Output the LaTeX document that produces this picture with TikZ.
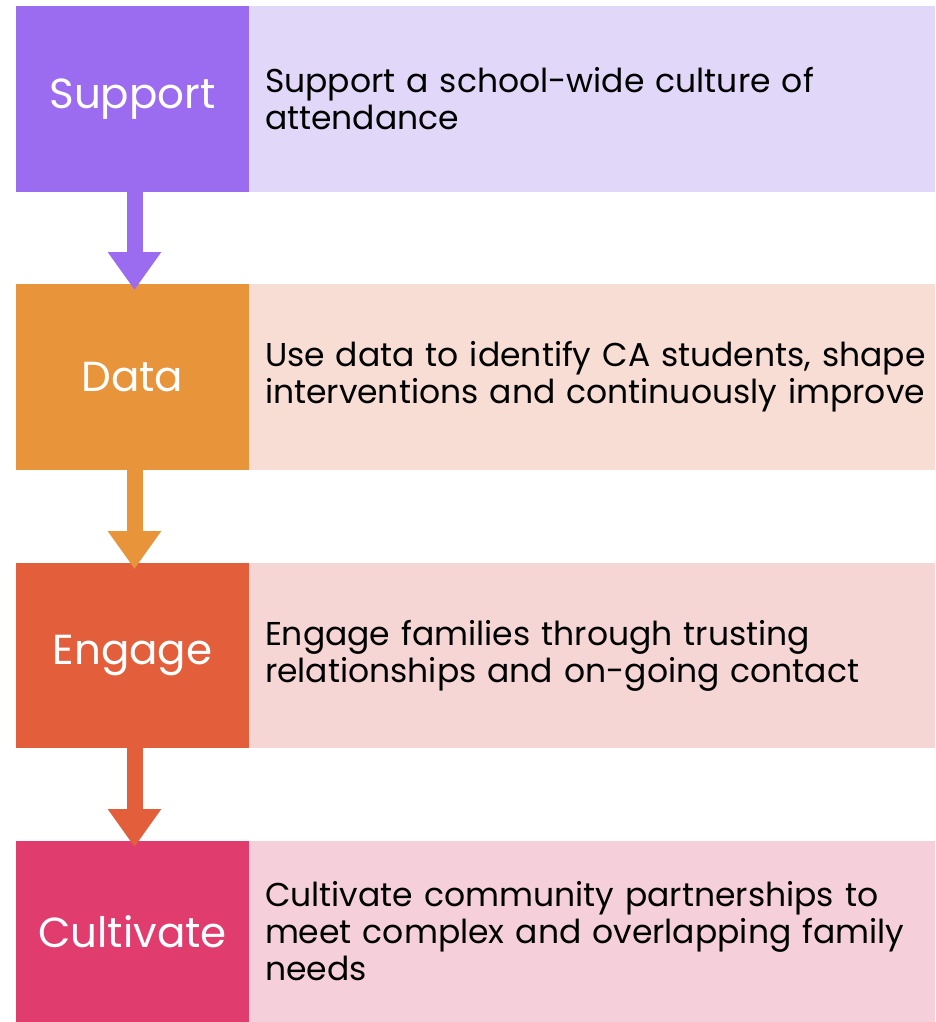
\documentclass[tikz,border=0pt]{standalone}
\usepackage{fontspec}
\setmainfont{Poppins}
\usetikzlibrary{arrows.meta}
\definecolor{supD}{HTML}{9B6BF0}
\definecolor{supL}{HTML}{E1D7F9}
\definecolor{datD}{HTML}{E8943A}
\definecolor{datL}{HTML}{F7DDD3}
\definecolor{engD}{HTML}{E35F3C}
\definecolor{engL}{HTML}{F5D6D4}
\definecolor{culD}{HTML}{E03C6E}
\definecolor{culL}{HTML}{F5D0DA}
\begin{document}
\begin{tikzpicture}[x=1pt,y=-1pt,
  lab/.style={inner sep=0, outer sep=0, minimum width=233pt, text=white,
    font=\fontsize{42}{48}\selectfont, anchor=north west},
  desc/.style={inner sep=0, outer sep=0, minimum width=686pt, text=black,
    font=\fontsize{33}{37}\selectfont, anchor=north west, align=left,
    text width=664pt, inner xsep=11pt, xshift=5pt},
  flow/.style={line width=16pt, -{Triangle[width=51pt,length=38pt]}}
]
\useasboundingbox (0,0) rectangle (935,1022);
% rows
\node[lab, fill=supD, minimum height=186pt] (sup) at (16,6) {Support};
\fill[supL] (249,6) rectangle (935,192);
\node[desc, minimum height=186pt] (supt) at (249,6) {Support a school-wide culture of\\attendance};
\node[lab, fill=datD, minimum height=186pt] (dat) at (16,284) {Data};
\fill[datL] (249,284) rectangle (935,470);
\node[desc, minimum height=186pt] (datt) at (249,284) {Use data to identify CA students, shape\\interventions and continuously improve};
\node[lab, fill=engD, minimum height=185pt] (eng) at (16,563) {Engage};
\fill[engL] (249,563) rectangle (935,748);
\node[desc, minimum height=185pt] (engt) at (249,563) {Engage families through trusting\\relationships and on-going contact};
\node[lab, fill=culD, minimum height=181pt] (cul) at (16,841) {Cultivate};
\fill[culL] (249,841) rectangle (935,1022);
\node[desc, minimum height=181pt] (cult) at (249,841) {Cultivate community partnerships to\\meet complex and overlapping family\\needs};
% arrows
\draw[flow, draw=supD, fill=supD] ([xshift=2pt]sup.south) -- ([xshift=2pt,yshift=-6pt]dat.north);
\draw[flow, draw=datD, fill=datD] ([xshift=2pt]dat.south) -- ([xshift=2pt,yshift=-6pt]eng.north);
\draw[flow, draw=engD, fill=engD] ([xshift=2pt]eng.south) -- ([xshift=2pt,yshift=-6pt]cul.north);
\end{tikzpicture}
\end{document}
